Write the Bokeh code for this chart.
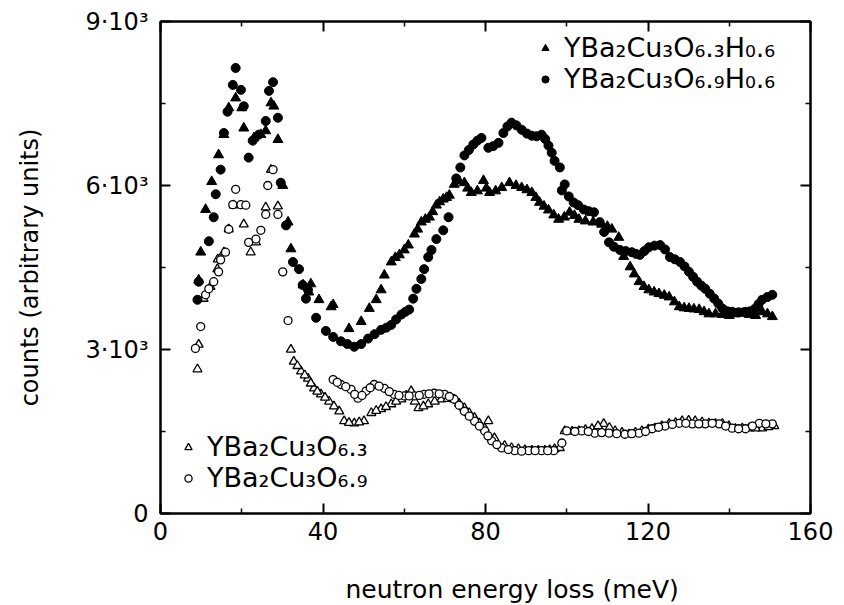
from bokeh.plotting import figure
from bokeh.models import (Range1d, FixedTicker, LinearAxis, Legend, LegendItem, ColumnDataSource, Title)
from bokeh.embed import file_html
from bokeh.resources import INLINE

# ---- data ----
# YBa2Cu3O6.3H0.6 (filled triangles)
ft_x = [9.4, 9.9, 11.1, 12.6, 14.3, 15.6, 16.8, 18.5, 20.0, 20.5, 23.0, 24.7, 25.9, 27.2, 27.9, 28.9,
        30.1, 31.4, 32.1, 35.1, 36.5, 37.0, 39.0, 42.0, 42.5, 46.4, 49.4, 51.4, 53.1, 54.3, 55.1, 56.8,
        58.8, 61.0, 62.5, 64.2, 66.2, 67.9, 69.6, 71.1, 72.3, 74.8, 76.5, 79.5, 81.0, 84.0, 85.9, 88.9,
        91.4, 93.3, 95.5, 98.0, 100.7, 103.0, 108.6, 111.1, 112.8, 115.6, 117.8, 120.2, 122.7, 125.2,
        127.7, 130.1, 132.6, 135.0, 138.3, 141.5, 144.9, 148.1, 150.6,
        104.6, 106.5, 110.0, 114.0, 116.6, 119.0, 121.5, 124.0, 126.5, 128.9, 131.3, 133.8, 136.6,
        140.0, 143.2, 146.5, 149.4,
        57.8, 60.0, 63.3, 65.2, 67.0, 68.7, 70.4, 73.5, 75.6, 78.0, 80.2, 82.5, 87.5, 90.2, 92.4,
        94.4, 96.8, 99.4, 101.9]
ft_y = [4270, 4780, 5560, 6070, 6560, 6930, 7420, 7600, 7420, 7050, 6870, 6930, 7000, 7510, 7450, 6840,
        6000, 5330, 4840, 4180, 4050, 4200, 3910, 3780, 3820, 3380, 3510, 3750, 3910, 4090, 4360, 4600,
        4730, 4910, 5110, 5330, 5420, 5640, 5750, 5820, 6020, 6050, 5870, 6090, 5870, 5960, 6050, 5960,
        5870, 5690, 5550, 5380, 5510, 5380, 5290, 5200, 5050, 4510, 4240, 4090, 4020, 3960,
        3780, 3750, 3730, 3650, 3640, 3650, 3640, 3690, 3600,
        5350, 5330, 5250, 4700, 4380, 4150, 4050, 3990, 3870, 3760, 3740, 3690, 3650,
        3620, 3660, 3620, 3650,
        4680, 4820, 5200, 5380, 5520, 5700, 5780, 6080, 5950, 5900, 5950, 5900, 6000, 5920, 5780,
        5620, 5460, 5420, 5450]

# YBa2Cu3O6.9H0.6 (filled circles)
fc_x = [9.1, 9.4, 11.9, 13.1, 13.6, 14.8, 15.6, 16.5, 17.8, 18.5, 19.8, 20.5, 21.7, 22.7, 24.2, 25.9,
        26.7, 27.7, 28.9, 29.6, 30.9, 32.6, 34.1, 35.0, 35.8, 36.3, 38.3, 40.7, 44.4, 47.7, 51.1, 54.3,
        56.8, 59.3, 61.2, 62.2, 63.0, 64.2, 64.9, 65.9, 66.7, 67.9, 69.6, 70.9, 72.8, 73.8, 74.8, 77.0,
        79.0, 80.7, 83.2, 84.4, 86.4, 88.9, 91.4, 93.8, 95.5, 97.0, 98.3, 99.5, 98.8, 101.7, 104.2,
        106.7, 108.1, 110.4, 113.1, 116.0, 118.0, 120.2, 123.0, 125.4, 127.9, 130.1, 132.1, 134.1,
        136.3, 138.3, 140.7, 144.0, 146.4, 148.1, 150.6,
        100.5, 102.8, 105.4, 109.2, 111.6, 114.5, 117.0, 119.1, 121.6, 124.2, 126.6, 129.0, 131.1,
        133.1, 135.2, 137.3, 139.5, 142.3, 145.2, 147.2, 149.4,
        42.5, 46.0, 49.4, 52.7, 55.6, 58.0, 60.3,
        75.9, 78.0, 81.9, 85.4, 87.6, 90.2, 92.6, 94.7, 96.3]
fc_y = [3910, 4240, 4980, 5420, 5840, 6290, 6960, 7350, 7840, 8150, 7750, 7450, 6510, 6820, 6930, 7180,
        7730, 7890, 7240, 6050, 5270, 4600, 4470, 4180, 3930, 4090, 3580, 3340, 3150, 3050, 3200, 3360,
        3450, 3640, 3730, 3930, 4110, 4290, 4470, 4690, 4820, 5020, 5180, 5420, 6130, 6330, 6550, 6750,
        6870, 6690, 6780, 6960, 7150, 7020, 6910, 6930, 6730, 6450, 6330, 6020, 5910, 5690, 5560,
        5510, 5330, 4960, 4820, 4780, 4730, 4870, 4910, 4690, 4600, 4420, 4240, 4110,
        3930, 3750, 3690, 3690, 3750, 3910, 4000,
        5800, 5640, 5530, 5150, 4880, 4800, 4750, 4800, 4900, 4830, 4650, 4520, 4330,
        4170, 4020, 3840, 3700, 3680, 3700, 3830, 3960,
        3230, 3100, 3100, 3280, 3400, 3550, 3690,
        6650, 6820, 6720, 7080, 7100, 6950, 6900, 6850, 6600]

# YBa2Cu3O6.3 (open triangles)
ot_x = [9.1, 9.4, 10.6, 12.3, 14.0, 14.1, 15.6, 16.8, 18.0, 20.5, 22.2, 23.5, 25.9, 27.2, 28.9, 32.1,
        32.8, 34.6, 36.3, 37.8, 39.5, 41.5, 44.0, 45.2, 47.7, 50.1, 51.9, 54.3, 56.8, 59.3, 61.7, 63.5,
        65.9, 69.1, 72.3, 74.8, 77.3, 79.8, 80.7, 82.2, 84.7, 88.1, 91.4, 94.6, 97.0, 99.5, 103.0,
        106.2, 109.1, 111.9, 115.3, 118.5, 121.7, 125.2, 128.4, 131.6, 135.0, 138.3, 141.5, 144.9,
        148.1, 151.1,
        33.7, 35.5, 37.0, 38.6, 40.5, 42.7,
        86.4, 89.7, 93.0, 95.8, 98.3, 101.3, 104.6, 107.7, 110.5, 113.6, 116.9, 120.1, 123.4, 126.8,
        130.0, 133.3, 136.6, 139.9, 143.2, 146.5, 149.6,
        46.4, 48.9, 53.1, 55.5, 58.0, 60.5, 62.6, 64.7, 67.5, 70.7, 73.5, 76.0, 78.5]
ot_y = [2640, 3090, 3930, 4150, 4470, 4650, 4780, 5200, 5640, 5290, 4780, 4960, 5600, 6290, 5620, 3000,
        2780, 2600, 2470, 2290, 2180, 2050, 1870, 1690, 1650, 1690, 1840, 1910, 2000, 2090, 2240, 1930,
        2000, 2090, 2090, 1930, 1750, 1560, 1690, 1380, 1240, 1180, 1150, 1150, 1180, 1510, 1510,
        1550, 1640, 1510, 1450, 1510, 1560, 1640, 1690, 1690, 1650, 1640, 1550, 1560,
        1560, 1600,
        2700, 2530, 2380, 2230, 2120, 1960,
        1200, 1160, 1150, 1160, 1200, 1500, 1530, 1600, 1570, 1480, 1480, 1540, 1600, 1660,
        1700, 1670, 1640, 1600, 1560, 1560, 1580,
        1660, 1670, 1880, 1950, 2050, 2160, 2050, 1960, 2050, 2100, 2010, 1840, 1650]

# YBa2Cu3O6.9 (open circles)
oc_x = [8.6, 9.9, 11.1, 11.9, 13.1, 14.3, 14.8, 16.0, 16.8, 17.8, 18.5, 19.8, 21.0, 21.7, 23.5, 24.7,
        25.9, 26.4, 27.7, 28.9, 30.1, 31.4, 42.5, 44.4, 46.9, 48.6, 50.6, 52.6, 55.1, 57.5, 60.0, 62.5,
        64.9, 67.4, 69.9, 72.3, 74.8, 77.3, 79.8, 81.5, 84.0, 87.2, 90.6, 93.8, 96.8, 98.8, 100.0,
        103.7, 106.9, 110.4, 114.3, 117.8, 121.0, 124.2, 127.7, 130.9, 134.1, 137.5, 140.7, 144.0,
        147.4, 150.6,
        85.6, 88.9, 92.2, 95.3, 102.0, 105.3, 108.6, 112.3, 116.0, 119.4, 122.6, 126.0, 129.3,
        132.5, 135.8, 139.1, 142.3, 145.7, 149.0,
        43.5, 45.6, 47.8, 49.6, 51.6, 53.8, 56.3, 58.7, 61.2, 63.7, 66.1, 68.6, 71.1, 73.5, 76.0,
        78.5, 80.6, 82.8]
oc_y = [3020, 3420, 4000, 4110, 4240, 4420, 4640, 4780, 5200, 5650, 5930, 5650, 5640, 4960, 5020, 5180,
        5470, 6000, 6290, 5470, 4420, 3530, 2450, 2360, 2270, 2110, 2240, 2360, 2290, 2180, 2150, 2150,
        2180, 2200, 2180, 2090, 1870, 1690, 1510, 1330, 1200, 1150, 1150, 1150, 1150, 1290, 1510,
        1510, 1470, 1470, 1450, 1470, 1550, 1600, 1650, 1640, 1640, 1640, 1560, 1550,
        1650, 1640,
        1170, 1140, 1150, 1150, 1500, 1500, 1480, 1460, 1460, 1500, 1580, 1630, 1650,
        1640, 1650, 1600, 1550, 1600, 1640,
        2400, 2320, 2180, 2160, 2300, 2330, 2230, 2160, 2150, 2160, 2190, 2190, 2140, 1980, 1780,
        1600, 1420, 1260]

x_ticks = [0, 40, 80, 120, 160]
x_minor = [20, 60, 100, 140]
y_ticks = [0, 3000, 6000, 9000]
y_minor = [1500, 4500, 7500]
y_tick_labels = {0: "0", 3000: "3·10³", 6000: "6·10³", 9000: "9·10³"}

x_title = "neutron energy loss (meV)"
y_title = "counts (arbitrary units)"
label_ft = "YBa₂Cu₃O₆.₃H₀.₆"
label_fc = "YBa₂Cu₃O₆.₉H₀.₆"
label_ot = "YBa₂Cu₃O₆.₃"
label_oc = "YBa₂Cu₃O₆.₉"

FONT = "DejaVu Sans"

p = figure(width=836, height=605, x_range=Range1d(0, 160), y_range=Range1d(0, 9000),
           output_backend="svg", toolbar_location=None,
           min_border_left=160, min_border_right=26, min_border_top=21, min_border_bottom=92)
p.xgrid.visible = False
p.ygrid.visible = False
p.outline_line_color = "black"
p.outline_line_width = 2
p.background_fill_color = "white"
p.border_fill_color = "white"

def style_axis(ax, ticks, minor):
    ax.ticker = FixedTicker(ticks=ticks, minor_ticks=minor)
    ax.major_tick_in = 10
    ax.major_tick_out = 0
    ax.minor_tick_in = 5
    ax.minor_tick_out = 0
    ax.major_tick_line_width = 2
    ax.minor_tick_line_width = 1.5
    ax.axis_line_width = 2
    ax.major_label_text_font = FONT
    ax.major_label_text_font_size = "24px"
    ax.major_label_text_color = "black"
    ax.axis_label_text_font = FONT
    ax.axis_label_text_font_style = "normal"
    ax.axis_label_text_color = "black"

xa = p.xaxis[0]
style_axis(xa, x_ticks, x_minor)
xa.major_label_standoff = 8
# the visible x title is the Title below; this only reserves room above it (not drawn)
xa.axis_label = x_title
xa.axis_label_text_font_size = "1px"
xa.axis_label_text_color = None
xa.axis_label_standoff = 25

ya = p.yaxis[0]
style_axis(ya, y_ticks, y_minor)
ya.major_label_overrides = y_tick_labels
ya.axis_label = y_title
ya.axis_label_text_font_size = "24px"
ya.major_label_standoff = 12
ya.axis_label_standoff = 38

for loc, t, m in (("above", x_ticks, x_minor), ("right", y_ticks, y_minor)):
    ax = LinearAxis()
    style_axis(ax, t, m)
    ax.major_label_text_font_size = "1px"
    ax.major_label_text_color = None
    ax.major_label_standoff = 0
    p.add_layout(ax, loc)

# x-axis title, placed right of centre as in the original
p.add_layout(Title(text=x_title, align="left", offset=185, standoff=2,
                   text_font=FONT, text_font_size="25px", text_font_style="normal",
                   text_color="black"), "below")

src_ft = ColumnDataSource(dict(x=ft_x, y=ft_y))
src_fc = ColumnDataSource(dict(x=fc_x, y=fc_y))
src_ot = ColumnDataSource(dict(x=ot_x, y=ot_y))
src_oc = ColumnDataSource(dict(x=oc_x, y=oc_y))

r_ot = p.scatter("x", "y", source=src_ot, marker="triangle", size=9, fill_color="white",
                 line_color="black", line_width=1.3)
r_oc = p.scatter("x", "y", source=src_oc, marker="circle", size=8, fill_color="white",
                 line_color="black", line_width=1.3)
r_ft = p.scatter("x", "y", source=src_ft, marker="triangle", size=10, fill_color="black",
                 line_color="black")
r_fc = p.scatter("x", "y", source=src_fc, marker="circle", size=9, fill_color="black",
                 line_color="black")

def make_legend(items, loc):
    lg = Legend(items=items, location=loc, orientation="vertical")
    lg.label_text_font = FONT
    lg.label_text_font_size = "27px"
    lg.label_text_color = "black"
    lg.label_height = 28
    lg.glyph_height = 20
    lg.glyph_width = 18
    lg.label_standoff = 10
    lg.spacing = 0
    lg.padding = 0
    lg.margin = 0
    lg.border_line_alpha = 0
    lg.background_fill_alpha = 0
    return lg

leg_top = make_legend([LegendItem(label=label_ft, renderers=[r_ft]),
                       LegendItem(label=label_fc, renderers=[r_fc])], (376, 419))
leg_bot = make_legend([LegendItem(label=label_ot, renderers=[r_ot]),
                       LegendItem(label=label_oc, renderers=[r_oc])], (19, 20))
p.add_layout(leg_top, "center")
p.add_layout(leg_bot, "center")

open("out.html", "w").write(file_html(p, INLINE))
